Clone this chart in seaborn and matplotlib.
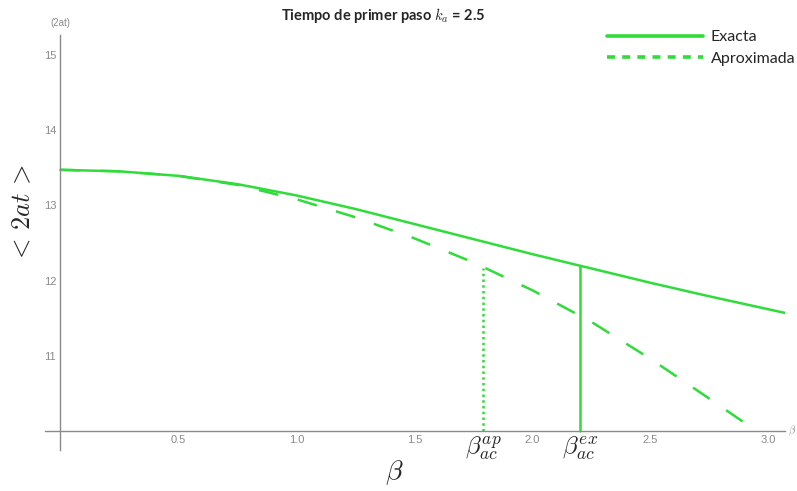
import matplotlib
matplotlib.use('Agg')
import pandas as pd
import seaborn as sns
from matplotlib import pyplot as plt
from matplotlib.lines import Line2D
from matplotlib.ticker import MultipleLocator, FixedLocator

# valores
beta_exact = [0, 0.25, 0.5, 0.75, 1.0, 1.25, 1.5, 1.75, 2.0, 2.25, 2.5, 2.75, 3.07]
t_exact = [13.47, 13.45, 13.39, 13.28, 13.13, 12.95, 12.75, 12.55, 12.35, 12.16, 11.97, 11.79, 11.57]
beta_aprox = [0, 0.25, 0.5, 0.75, 1.0, 1.25, 1.5, 1.75, 2.0, 2.25, 2.5, 2.75, 2.95]
t_aprox = [13.47, 13.45, 13.39, 13.27, 13.08, 12.84, 12.56, 12.24, 11.87, 11.45, 10.96, 10.43, 10.0]
beta_ac_ap, t_ac_ap = 1.79, 12.17
beta_ac_ex, t_ac_ex = 2.20, 12.19
x_ticks = [0.5, 1.0, 1.5, 2.0, 2.5, 3.0]
y_ticks = [11, 12, 13, 14, 15]
y_base = 10

green = '#2fdc3a'
grey = '#8a8a8a'

sns.set_style('white')
plt.rcParams['font.family'] = ['Lato', 'DejaVu Sans']
plt.rcParams['mathtext.fontset'] = 'cm'

exact = pd.DataFrame({'beta': beta_exact, 't': t_exact})
aprox = pd.DataFrame({'beta': beta_aprox, 't': t_aprox})

fig = plt.figure(figsize=(7.97, 4.91), dpi=100)
ax = fig.add_axes([0.0565, 0.0835, 0.9285, 0.8452])

sns.lineplot(data=exact, x='beta', y='t', ax=ax, color=green, lw=1.8,
             estimator=None, sort=False)
sns.lineplot(data=aprox, x='beta', y='t', ax=ax, color=green, lw=1.8,
             estimator=None, sort=False, linestyle=(0, (8, 8)))
sns.lineplot(x=[beta_ac_ap, beta_ac_ap], y=[y_base, t_ac_ap], ax=ax, color=green,
             lw=1.8, estimator=None, sort=False, linestyle=(0, (1, 1.3)))
sns.lineplot(x=[beta_ac_ex, beta_ac_ex], y=[y_base, t_ac_ex], ax=ax, color=green,
             lw=1.8, estimator=None, sort=False)

ax.set_xlim(-0.065, 3.07)
ax.set_ylim(9.75, 15.26)

# ejes estilo Mathematica
ax.spines['left'].set_position(('data', 0))
ax.spines['bottom'].set_position(('data', y_base))
ax.spines['top'].set_visible(False)
ax.spines['right'].set_visible(False)
for s in ['left', 'bottom']:
    ax.spines[s].set_color(grey)
    ax.spines[s].set_linewidth(1.0)

ax.xaxis.set_major_locator(FixedLocator(x_ticks))
ax.xaxis.set_minor_locator(MultipleLocator(0.1))
ax.yaxis.set_major_locator(FixedLocator(y_ticks))
ax.yaxis.set_minor_locator(MultipleLocator(0.2))
ax.set_xticklabels(['%.1f' % v for v in x_ticks], fontfamily='Liberation Sans')
ax.set_yticklabels([str(v) for v in y_ticks], fontfamily='Liberation Sans')
ax.tick_params(which='major', direction='in', length=4, width=0.8, color=grey,
               labelsize=8, labelcolor=grey, pad=3)
ax.tick_params(which='minor', direction='in', length=2.5, width=0.6, color=grey)
ax.set_xlabel('')
ax.set_ylabel('')

ax.text(1.004, y_base, r'$\beta$', transform=ax.get_yaxis_transform(), fontsize=7.5,
        color=grey, va='center', ha='left')
ax.text(0, 15.42, '(2at)', fontsize=7, color=grey, ha='center', va='center',
        fontfamily='Liberation Sans')

fig.text(0.028, 0.565, r'$<\,2at\,>$', rotation=90, fontsize=19, ha='center', va='center')
fig.text(0.495, 0.038, r'$\beta$', fontsize=20, ha='center', va='center')
ax.text(beta_ac_ap, 9.95, r'$\beta_{ac}^{ap}$', fontsize=18, ha='center', va='top')
ax.text(beta_ac_ex, 9.95, r'$\beta_{ac}^{ex}$', fontsize=18, ha='center', va='top')

fig.text(0.481, 0.968, r'Tiempo de primer paso $k_a$ = 2.5', fontsize=10.5,
         fontweight='bold', ha='center', va='center')

handles = [Line2D([], [], color=green, lw=2.6),
           Line2D([], [], color=green, lw=2.6, linestyle=(0, (2.2, 2)))]
fig.legend(handles=handles, labels=['Exacta', 'Aproximada'], loc='upper right',
           bbox_to_anchor=(1.016, 0.968), frameon=False, fontsize=11.5,
           handlelength=6.0, handletextpad=0.5, labelspacing=0.45)

fig.savefig('out.png', dpi=100)
